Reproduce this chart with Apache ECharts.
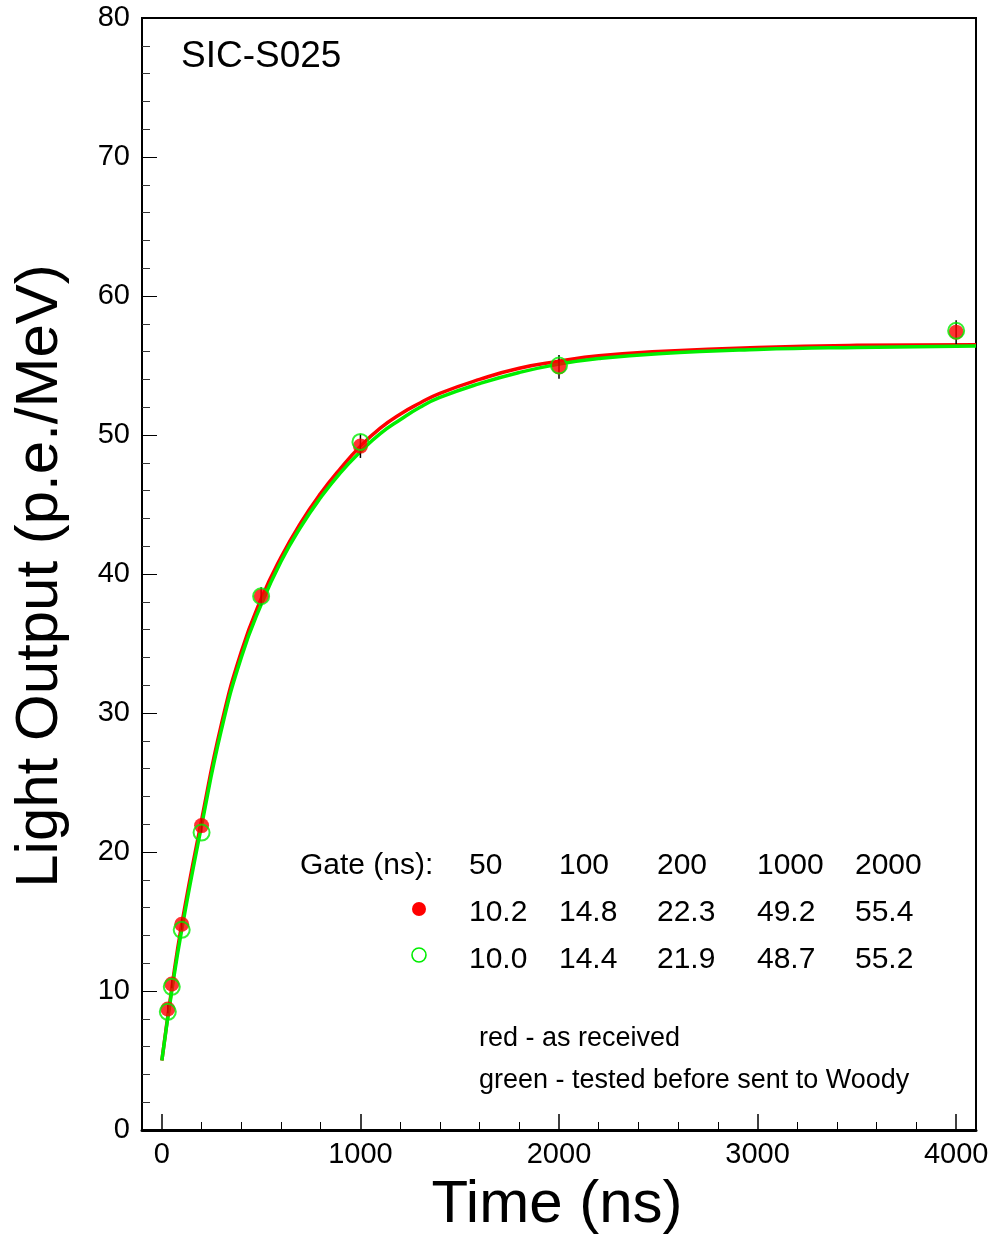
<!DOCTYPE html>
<html>
<head>
<meta charset="utf-8">
<script src="https://cdn.jsdelivr.net/npm/echarts@6/dist/echarts.min.js"></script>
<style>
html,body{margin:0;padding:0;background:#fff;}
#chart{width:992px;height:1239px;}
</style>
</head>
<body>
<div id="chart"></div>
<script>
// ---- data ----
const gateTimes   = [30, 50, 100, 200, 500, 1000, 2000, 4000];
const redPoints   = [8.7, 10.5, 14.8, 21.9, 38.4, 49.2, 54.9, 57.4];
const greenPoints = [8.5, 10.3, 14.4, 21.4, 38.4, 49.5, 55.0, 57.5];
const pointErrors = [0.3, 0.3, 0.4, 0.5, 0.65, 0.85, 0.85, 0.85];

const curveTimes = [0, 50, 100, 200, 300, 400, 500, 600, 700, 800, 900, 1000, 1100, 1200, 1300, 1400, 1600, 1800, 2000, 2200, 2500, 3000, 3500, 4100];
const redCurve   = [5.0, 10.2, 14.8, 22.3, 29.2, 34.4, 38.2, 41.2, 43.7, 45.8, 47.6, 49.2, 50.5, 51.5, 52.3, 53.0, 54.0, 54.8, 55.3, 55.7, 56.0, 56.3, 56.45, 56.5];
const greenCurve = [5.0, 10.0, 14.4, 21.9, 28.8, 34.0, 37.8, 40.9, 43.4, 45.5, 47.3, 48.8, 50.1, 51.1, 52.0, 52.7, 53.7, 54.5, 55.1, 55.5, 55.85, 56.15, 56.3, 56.4];

const xMajorTicks = [0, 1000, 2000, 3000, 4000];
const xMinorTicks = [200, 400, 600, 800, 1200, 1400, 1600, 1800, 2200, 2400, 2600, 2800, 3200, 3400, 3600, 3800];

const gateHeader = ['50', '100', '200', '1000', '2000'];
const redFitVals = ['10.2', '14.8', '22.3', '49.2', '55.4'];
const greenFitVals = ['10.0', '14.4', '21.9', '48.7', '55.2'];

const FONT = '"Liberation Sans", Arial, Helvetica, sans-serif';

const chart = echarts.init(document.getElementById('chart'), null, {renderer: 'canvas'});

const zip = (xs, ys) => xs.map((x, i) => [x, ys[i]]);
const errData = gateTimes.map((t, i) => [t, redPoints[i] - pointErrors[i], redPoints[i] + pointErrors[i]]);

const colX = [469, 559, 657, 757, 855];
const graphics = [];
function txt(x, y, s, size, extra) {
  graphics.push(Object.assign({
    type: 'text', x: x, y: y, silent: true,
    style: {text: s, fill: '#000', font: size + 'px ' + FONT, textAlign: 'left', textVerticalAlign: 'middle'}
  }, extra || {}));
}
txt(181, 57, 'SIC-S025', 37);
txt(300, 866, 'Gate (ns):', 30);
gateHeader.forEach((s, i) => txt(colX[i], 866, s, 30));
redFitVals.forEach((s, i) => txt(colX[i], 913, s, 30));
greenFitVals.forEach((s, i) => txt(colX[i], 960, s, 30));
graphics.push({type: 'circle', silent: true, shape: {cx: 419, cy: 909, r: 7}, style: {fill: '#ff0000'}});
graphics.push({type: 'circle', silent: true, shape: {cx: 419, cy: 955, r: 7}, style: {fill: 'none', stroke: '#00ee00', lineWidth: 1.6}});
txt(479, 1039, 'red - as received', 27);
txt(479, 1081, 'green - tested before sent to Woody', 27);
// axis titles
graphics.push({type: 'text', x: 557, y: 1205, silent: true,
  style: {text: 'Time (ns)', fill: '#000', font: '60px ' + FONT, textAlign: 'center', textVerticalAlign: 'middle'}});
graphics.push({type: 'text', x: 40, y: 576, rotation: Math.PI / 2, silent: true,
  style: {text: 'Light Output (p.e./MeV)', fill: '#000', font: '60px ' + FONT, textAlign: 'center', textVerticalAlign: 'middle'}});

const option = {
  backgroundColor: '#fff',
  animation: false,
  grid: {left: 142, top: 18, right: 16, bottom: 109, show: true, borderColor: '#000', borderWidth: 2, backgroundColor: 'transparent', containLabel: false},
  xAxis: [{
    type: 'value', min: -100, max: 4100, position: 'bottom',
    axisLine: {show: true, onZero: false, lineStyle: {color: '#000', width: 3}},
    axisTick: {show: true, inside: true, length: 16, customValues: xMajorTicks, lineStyle: {color: '#000', width: 1.5}},
    axisLabel: {show: true, customValues: xMajorTicks, fontSize: 29, color: '#000', fontFamily: FONT, margin: 10,
      formatter: function (v) { return String(v); }},
    splitLine: {show: false}
  }, {
    type: 'value', min: -100, max: 4100, position: 'bottom',
    axisLine: {show: false},
    axisTick: {show: true, inside: true, length: 8, customValues: xMinorTicks, lineStyle: {color: '#000', width: 1}},
    axisLabel: {show: false},
    splitLine: {show: false}
  }],
  yAxis: {
    type: 'value', min: 0, max: 80, interval: 10,
    axisLine: {show: true, onZero: false, lineStyle: {color: '#000', width: 2}},
    axisTick: {show: true, inside: true, length: 15, lineStyle: {color: '#000', width: 1}},
    minorTick: {show: true, splitNumber: 5, length: 8, lineStyle: {color: '#333', width: 1}},
    axisLabel: {fontSize: 29, color: '#000', fontFamily: FONT, margin: 12, padding: [3, 0, 0, 0], formatter: function (v) { return String(v); }},
    splitLine: {show: false}
  },
  graphic: graphics,
  series: [
    {name: 'red fit', type: 'line', xAxisIndex: 0, data: zip(curveTimes, redCurve), smooth: 0.5,
     showSymbol: false, lineStyle: {color: '#ff0000', width: 3.5}, z: 2, clip: true},
    {name: 'green fit', type: 'line', xAxisIndex: 0, data: zip(curveTimes, greenCurve), smooth: 0.5,
     showSymbol: false, lineStyle: {color: '#00ee00', width: 3.5}, z: 3, clip: true},
    {name: 'errors', type: 'custom', xAxisIndex: 0, data: errData, z: 4,
     renderItem: function (params, api) {
       const lo = api.coord([api.value(0), api.value(1)]);
       const hi = api.coord([api.value(0), api.value(2)]);
       return {type: 'line', shape: {x1: lo[0], y1: lo[1], x2: hi[0], y2: hi[1]}, style: {stroke: '#000', lineWidth: 1.5}};
     }},
    {name: 'red', type: 'scatter', xAxisIndex: 0, data: zip(gateTimes, redPoints), symbol: 'circle', symbolSize: 15,
     itemStyle: {color: '#ff0000'}, z: 5},
    {name: 'green', type: 'scatter', xAxisIndex: 0, data: zip(gateTimes, greenPoints), symbol: 'circle', symbolSize: 16,
     itemStyle: {color: 'rgba(0,0,0,0)', borderColor: '#00ee00', borderWidth: 2}, z: 6}
  ]
};
chart.setOption(option);
</script>
</body>
</html>
